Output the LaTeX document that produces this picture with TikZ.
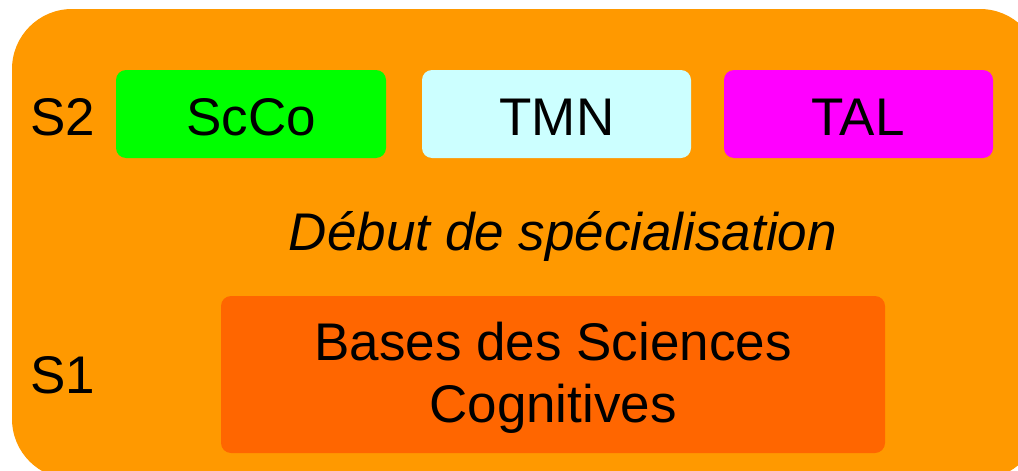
\documentclass[tikz,border=0pt]{standalone}
\usepackage{fontspec}
\setmainfont{Liberation Sans}
\definecolor{outer}{HTML}{FF9900}
\definecolor{scco}{HTML}{00FF00}
\definecolor{tmn}{HTML}{CCFFFF}
\definecolor{tal}{HTML}{FF00FF}
\definecolor{bases}{HTML}{FF6600}
\begin{document}
\begin{tikzpicture}[x=1pt,y=-1pt,
  course/.style={rounded corners=10pt},
  lbl/.style={font=\fontsize{53}{62}\selectfont, inner sep=0pt, align=center}]
\useasboundingbox (0,0) rectangle (1018,471);
\begin{scope}
\clip (0,0) rectangle (1018,471);
\fill[outer, rounded corners=60pt] (12,9) rectangle (1040,479);
\end{scope}
\fill[scco, course] (116,70) rectangle (386,158);
\fill[tmn, course] (422,70) rectangle (691,158);
\fill[tal, course] (724,70) rectangle (993,158);
\fill[bases, course] (221,296) rectangle (885,453);
\node[lbl] (s2) at (63,117) {S2};
\node[lbl] (scco) at (251,117) {ScCo};
\node[lbl] (tmn) at (557,117) {TMN};
\node[lbl] (tal) at (858,117) {TAL};
\node[lbl, font=\fontsize{53}{62}\selectfont\itshape] (debut) at (563,236) {Début de spécialisation};
\node[lbl] (s1) at (63,375) {S1};
\node[lbl] (bases) at (553,378) {Bases des Sciences\\Cognitives};
\end{tikzpicture}
\end{document}
